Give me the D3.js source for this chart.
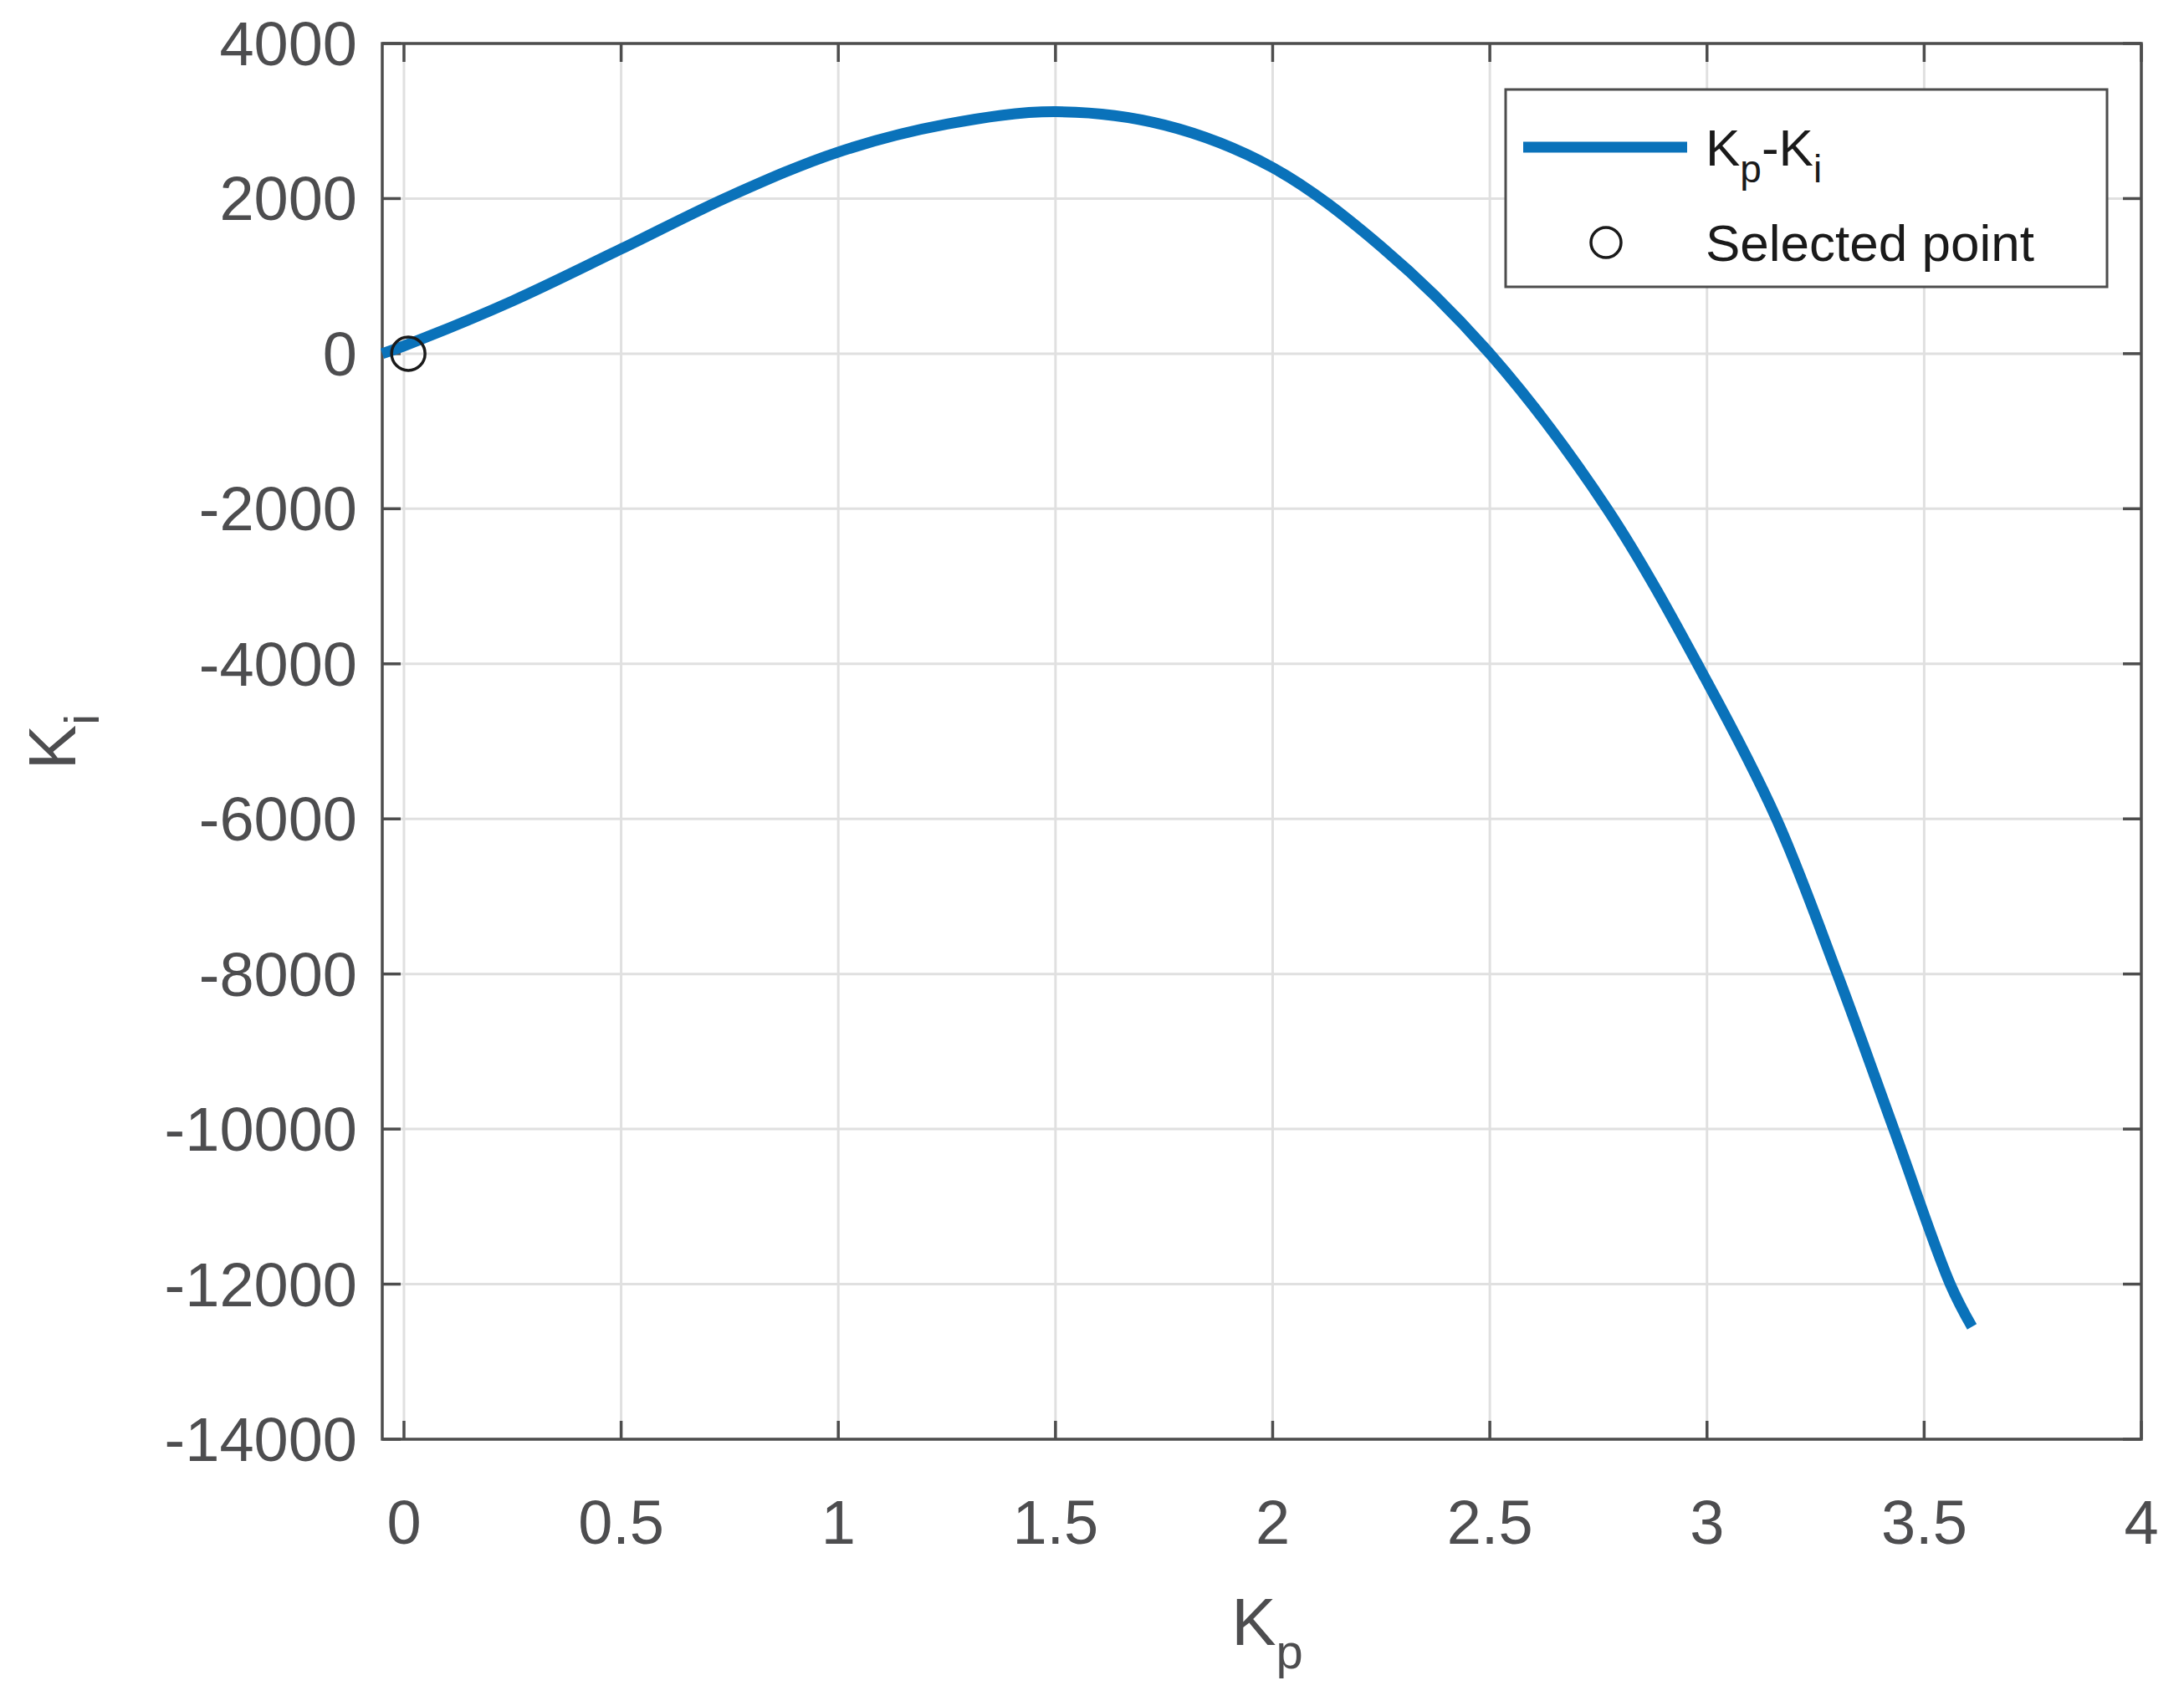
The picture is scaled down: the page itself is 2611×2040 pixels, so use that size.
<!DOCTYPE html>
<html><head><meta charset="utf-8">
<script src="https://cdn.jsdelivr.net/npm/d3@7"></script>
<style>body{margin:0;background:#fff}</style></head>
<body><svg id="c" width="2611" height="2040"></svg>
<script>
const kp = [-0.05,0,0.25,0.5,0.75,1,1.25,1.5,1.75,2,2.25,2.5,2.77,3,3.16,3.3,3.43,3.56,3.61];
const ki = [0,100,680,1350,2030,2600,2960,3120,2950,2400,1380,0,-2000,-4230,-6000,-8000,-10000,-12000,-12550];
const selected = [[0.01,0]];
const xTicks = [0,0.5,1,1.5,2,2.5,3,3.5,4];
const yTicks = [4000,2000,0,-2000,-4000,-6000,-8000,-10000,-12000,-14000];
const svg = d3.select("#c");
const L=457,R=2560,T=52,B=1721;
const x=d3.scaleLinear().domain([-0.05,4]).range([L,R]);
const y=d3.scaleLinear().domain([-14000,4000]).range([B,T]);
const font="Helvetica, Arial, 'Liberation Sans', sans-serif";
const tc="#4d4d4f", ac="#4d4d4d";
const g=svg.append("g");
xTicks.forEach(t=>{g.append("line").attr("x1",x(t)).attr("x2",x(t)).attr("y1",T).attr("y2",B).attr("stroke","#e0e0e0").attr("stroke-width",3);});
yTicks.forEach(t=>{g.append("line").attr("x1",L).attr("x2",R).attr("y1",y(t)).attr("y2",y(t)).attr("stroke","#e0e0e0").attr("stroke-width",3);});
// ticks
xTicks.forEach(t=>{
 g.append("line").attr("x1",x(t)).attr("x2",x(t)).attr("y1",B).attr("y2",B-22).attr("stroke",ac).attr("stroke-width",3.5);
 g.append("line").attr("x1",x(t)).attr("x2",x(t)).attr("y1",T).attr("y2",T+22).attr("stroke",ac).attr("stroke-width",3.5);
 g.append("text").attr("x",x(t)).attr("y",1846).attr("text-anchor","middle").attr("font-family",font).attr("font-size",74).attr("fill",tc).text(d3.format("")(t));
});
yTicks.forEach(t=>{
 g.append("line").attr("x1",L).attr("x2",L+22).attr("y1",y(t)).attr("y2",y(t)).attr("stroke",ac).attr("stroke-width",3.5);
 g.append("line").attr("x1",R).attr("x2",R-22).attr("y1",y(t)).attr("y2",y(t)).attr("stroke",ac).attr("stroke-width",3.5);
 g.append("text").attr("x",427).attr("y",y(t)+26).attr("text-anchor","end").attr("font-family",font).attr("font-size",74).attr("fill",tc).text(t);
});
g.append("rect").attr("x",L).attr("y",T).attr("width",R-L).attr("height",B-T).attr("fill","none").attr("stroke",ac).attr("stroke-width",3.5);
const line=d3.line().x((d,i)=>x(kp[i])).y((d,i)=>y(ki[i])).curve(d3.curveCatmullRom);
g.append("path").datum(kp).attr("d",line).attr("fill","none").attr("stroke","#0a72ba").attr("stroke-width",13);
selected.forEach(p=>g.append("circle").attr("cx",x(p[0])).attr("cy",y(p[1])).attr("r",20).attr("fill","none").attr("stroke","#1a1a1a").attr("stroke-width",3.5));
// axis labels
const xl=g.append("text").attr("x",1515).attr("y",1967).attr("text-anchor","middle").attr("font-family",font).attr("font-size",80).attr("fill",tc);
xl.append("tspan").text("K"); xl.append("tspan").attr("font-size",58).attr("dy",28).text("p");
const yl=g.append("text").attr("transform","translate(90,887) rotate(-90)").attr("text-anchor","middle").attr("font-family",font).attr("font-size",80).attr("fill",tc);
yl.append("tspan").text("K"); yl.append("tspan").attr("font-size",58).attr("dy",28).text("i");
// legend
g.append("rect").attr("x",1800).attr("y",107).attr("width",719).attr("height",236).attr("fill","#fff").attr("stroke",ac).attr("stroke-width",3);
g.append("line").attr("x1",1821).attr("x2",2017).attr("y1",176).attr("y2",176).attr("stroke","#0a72ba").attr("stroke-width",13);
const lt=g.append("text").attr("x",2039).attr("y",198).attr("font-family",font).attr("font-size",62).attr("fill","#1a1a1a");
lt.append("tspan").text("K");lt.append("tspan").attr("font-size",46).attr("dy",20).text("p");
lt.append("tspan").attr("dy",-20).text("-K");lt.append("tspan").attr("font-size",46).attr("dy",20).text("i");
g.append("circle").attr("cx",1920).attr("cy",290).attr("r",18).attr("fill","none").attr("stroke","#1a1a1a").attr("stroke-width",3.5);
g.append("text").attr("x",2039).attr("y",312).attr("font-family",font).attr("font-size",62).attr("fill","#1a1a1a").text("Selected point");
</script></body></html>
